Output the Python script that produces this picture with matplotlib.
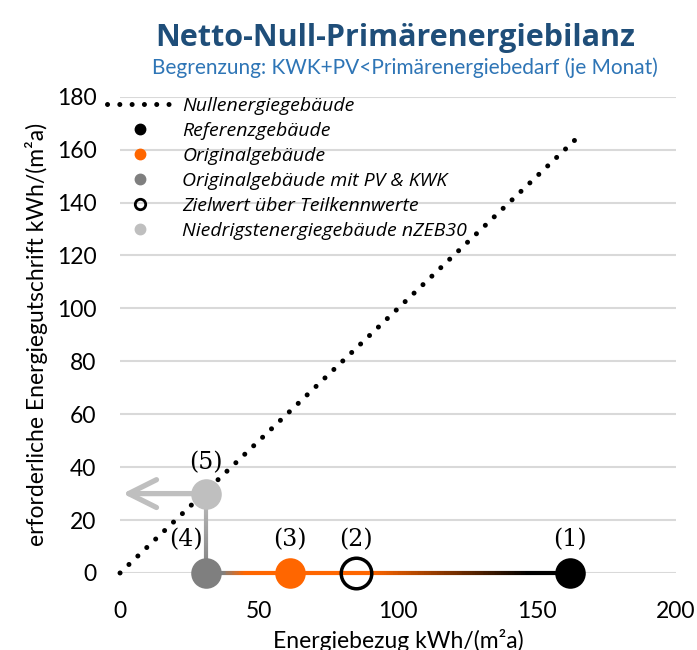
import matplotlib.pyplot as plt
import numpy as np
from matplotlib.collections import LineCollection
from matplotlib.colors import LinearSegmentedColormap
from matplotlib.lines import Line2D

# Daten
punkt_labels = ['(1)', '(2)', '(3)', '(4)', '(5)']
punkt_x = [162, 85, 61, 31, 31]
punkt_y = [0, 0, 0, 0, 30]
null_x = [0, 165]
null_y = [0, 165]
pfeil_ende_x = 1

legend_labels = ['Nullenergiegebäude', 'Referenzgebäude', 'Originalgebäude',
                 'Originalgebäude mit PV & KWK', 'Zielwert über Teilkennwerte',
                 'Niedrigstenergiegebäude nZEB30']

SCHWARZ = '#000000'
ORANGE = '#FF6600'
GRAU = '#7F7F7F'
HELLGRAU = '#BFBFBF'
GRID = '#D9D9D9'

plt.rcParams['font.family'] = ['Lato', 'DejaVu Sans']

fig = plt.figure(figsize=(6.97, 6.5), dpi=100)
ax = fig.add_axes([0.1722, 0.1185, 0.7977, 0.7327])

ax.set_xlim(0, 200)
ax.set_ylim(0, 180)
ax.set_xticks([0, 50, 100, 150, 200])
ax.set_yticks(np.arange(0, 181, 20))
ax.tick_params(length=0, labelsize=16.5)
ax.tick_params(axis='y', pad=17)
ax.tick_params(axis='x', pad=20)
ax.yaxis.grid(True, color=GRID, lw=1.5)
ax.set_axisbelow(True)
for s in ax.spines.values():
    s.set_visible(False)

# Nullenergie-Linie (gepunktet)
dots = (0, (0.01, 2.45))
ax.plot(null_x, null_y, color='black', lw=3.6, linestyle=dots,
        dash_capstyle='round', zorder=2, clip_on=False)

# Horizontale Linie mit Farbverlauf (4) -> (1)
cmap_h = LinearSegmentedColormap.from_list(
    'h', [(0.0, GRAU), (0.04, GRAU), (0.10, ORANGE), (0.45, ORANGE), (0.88, SCHWARZ), (1.0, SCHWARZ)])
xs = np.linspace(punkt_x[3], punkt_x[0], 200)
segs = [[(xs[i], 0), (xs[i + 1], 0)] for i in range(len(xs) - 1)]
t = (xs[:-1] - xs[0]) / (xs[-1] - xs[0])
lc = LineCollection(segs, colors=cmap_h(t), linewidths=3, zorder=3, clip_on=False)
ax.add_collection(lc)

# Vertikale Linie (4) -> (5)
cmap_v = LinearSegmentedColormap.from_list('v', [GRAU, HELLGRAU])
ys = np.linspace(punkt_y[3], punkt_y[4], 100)
segs = [[(punkt_x[3], ys[i]), (punkt_x[3], ys[i + 1])] for i in range(len(ys) - 1)]
tv = (ys[:-1] - ys[0]) / (ys[-1] - ys[0])
lc2 = LineCollection(segs, colors=cmap_v(tv), linewidths=3, zorder=3, clip_on=False)
ax.add_collection(lc2)

# Pfeil nach links
ax.annotate('', xy=(pfeil_ende_x, punkt_y[4]), xytext=(punkt_x[4], punkt_y[4]),
            arrowprops=dict(arrowstyle='->, head_length=1.0, head_width=0.5',
                            mutation_scale=20, color=HELLGRAU, lw=3.8,
                            shrinkA=0, shrinkB=0),
            zorder=3)

# Punkte
farben = [SCHWARZ, 'white', ORANGE, GRAU, HELLGRAU]
for i in range(5):
    if i == 1:
        ax.plot(punkt_x[i], punkt_y[i], 'o', ms=22, mfc='none', mec='black', mew=2.5,
                zorder=5, clip_on=False)
    else:
        ax.plot(punkt_x[i], punkt_y[i], 'o', ms=22, color=farben[i], mec='none',
                zorder=5, clip_on=False)

# Beschriftungen (1)..(5)
offs = [(0, 24), (0, 24), (0, 24), (-14.5, 24), (0, 22)]
for i in range(5):
    ax.annotate(punkt_labels[i], (punkt_x[i], punkt_y[i]), xytext=offs[i],
                textcoords='offset points', ha='center', va='center',
                fontsize=17, family='DejaVu Serif', zorder=6)

# Legende
handles = [
    Line2D([], [], color='black', lw=3.6, linestyle=dots, dash_capstyle='round'),
    Line2D([], [], lw=0, marker='o', ms=7.5, color=SCHWARZ),
    Line2D([], [], lw=0, marker='o', ms=7.5, color=ORANGE),
    Line2D([], [], lw=0, marker='o', ms=7.5, color=GRAU),
    Line2D([], [], lw=0, marker='o', ms=7.5, mfc='none', mec='black', mew=2),
    Line2D([], [], lw=0, marker='o', ms=7.5, color=HELLGRAU),
]
fig.legend(handles, legend_labels, loc='upper left', bbox_to_anchor=(0.139, 0.866),
           frameon=False, prop={'family': 'Open Sans', 'style': 'italic', 'size': 14},
           handlelength=3.4, handletextpad=0.5, labelspacing=0.36, borderpad=0)

# Titel
fig.text(0.567, 0.9415, 'Netto-Null-Primärenergiebilanz', ha='center', va='center',
         fontsize=22, fontweight='bold', color='#1F4E79', family='Open Sans')
fig.text(0.581, 0.8955, 'Begrenzung: KWK+PV<Primärenergiebedarf (je Monat)', ha='center',
         va='center', fontsize=15, color='#2E75B6')

ax.set_xlabel('Energiebezug kWh/(m²a)', fontsize=16.5, labelpad=5)
ax.set_ylabel('erforderliche Energiegutschrift kWh/(m²a)', fontsize=16.5, labelpad=6)

fig.savefig('out.png', dpi=100)
